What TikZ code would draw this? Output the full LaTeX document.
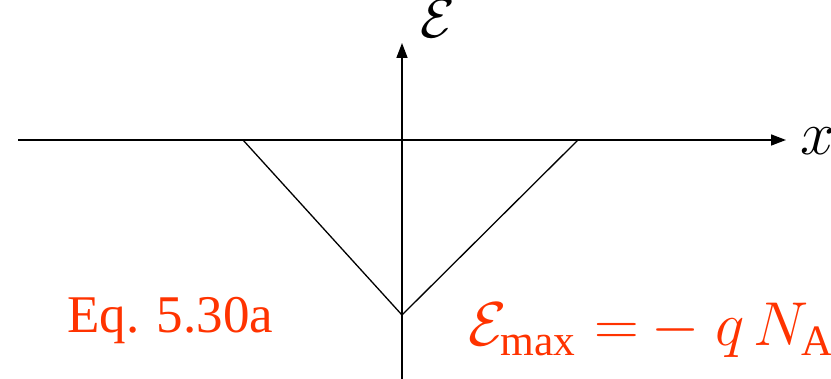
\documentclass[tikz,border=0pt]{standalone}
\usepackage{fix-cm}
\usepackage{fontspec}
\setmainfont{Liberation Serif}
\usetikzlibrary{arrows.meta}
\definecolor{eqred}{HTML}{FF3300}
\tikzset{
  axis/.style={line width=1.6pt, -{Triangle[length=15pt,width=11pt]}},
  vline/.style={line width=1.3pt},
  eqtext/.style={text=eqred, inner sep=0pt, anchor=base west},
}
\begin{document}
\begin{tikzpicture}[x=1pt,y=-1pt]
\useasboundingbox (0,0) rectangle (831,379);
\coordinate (xl) at (18,140);
\coordinate (xr) at (786,140);
\coordinate (yb) at (402,379);
\coordinate (yt) at (402,43);
\coordinate (vl) at (243,140);
\coordinate (vm) at (402,315);
\coordinate (vr) at (578,140);
\draw[axis] (xl) -- (xr);
\draw[axis] (yb) -- (yt);
\draw[vline] (vl) -- (vm) -- (vr);
\node[inner sep=0pt, anchor=base west] (elab) at (420,38) {\fontsize{56}{60}\selectfont$\mathcal{E}$};
\node[inner sep=0pt, anchor=base west] (xlab) at (800,155) {\fontsize{62}{66}\selectfont$x$};
\node[eqtext] (eqn) at (67,333) {\fontsize{53}{60}\selectfont Eq. 5.30a};
\node[eqtext] (emax) at (468,346) {\fontsize{62}{66}\selectfont$\mathcal{E}_{\mathrm{max}}\hspace{18pt}{=}\hspace{13pt}{-}\hspace{16pt}q\hspace{8pt}N_{\mathrm{A}}\hspace{8pt}x$};
\end{tikzpicture}
\end{document}
